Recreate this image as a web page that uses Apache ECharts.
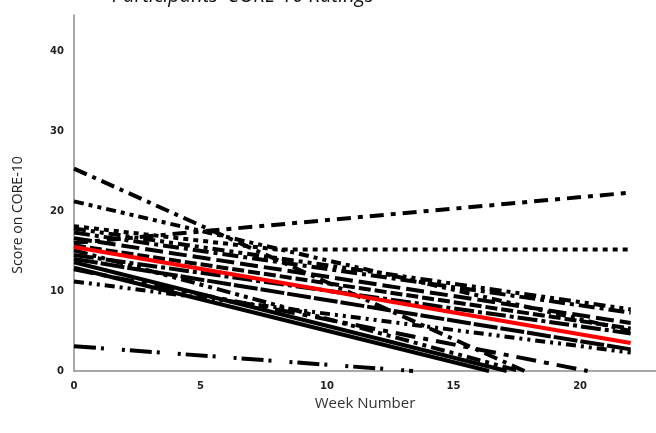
<!DOCTYPE html>
<html>
<head>
<meta charset="utf-8">
<script src="https://cdn.jsdelivr.net/npm/echarts@6/dist/echarts.min.js"></script>
<style>
  html, body { margin: 0; padding: 0; background: #fff; }
  #chart { width: 656px; height: 433px; }
</style>
</head>
<body>
<div id="chart"></div>
<script>
// CORE-10 scores per participant: each line runs through these (week, score) points
const participantWeeks = [
  [0, 17.8],
  [0, 22],
  [0, 8, 22],
  [0, 22],
  [0, 22],
  [0, 22],
  [0, 22],
  [0, 22],
  [0, 22],
  [0, 22],
  [0, 17.1],
  [0, 16.4],
  [0, 20.3],
  [0, 22],
  [0, 17.6],
  [0, 13.4]
];
const participantScores = [
  [25.3, 0],
  [21.2, 5.0],
  [18.1, 15.2, 15.2],
  [17.8, 7.7],
  [16.0, 22.3],
  [16.6, 6.0],
  [17.3, 7.3],
  [15.7, 5.3],
  [14.5, 4.7],
  [14.0, 2.7],
  [13.6, 0],
  [12.9, 0],
  [12.7, 0],
  [11.2, 2.3],
  [15.1, 0],
  [3.1, 0]
];

// overall trend line across all participants
const fitWeeks  = [0, 22];
const fitScores = [15.5, 3.5];

const xTicks = [0, 5, 10, 15, 20];
const yTicks = [0, 10, 20, 30, 40];

// dash pattern per participant line (null = solid)
const dashStyles = [
  [14, 6, 4, 6],
  [10, 5, 4, 5, 4, 5],
  [5, 5],
  [12, 5, 4, 5, 4, 5],
  [14, 7, 5, 7],
  [18, 6],
  [16, 5, 4, 5],
  [12, 4],
  [20, 4, 4, 4],
  [24, 3],
  null,
  null,
  [20, 8, 5, 8],
  [10, 5, 3, 5, 3, 5],
  [14, 5, 4, 5, 4, 5],
  [22, 5, 3, 18, 3, 5]
];

const participantSeries = participantScores.map((scores, i) => ({
  type: 'line',
  name: 'P' + (i + 1),
  data: scores.map((s, j) => [participantWeeks[i][j], s]),
  symbol: 'none',
  silent: true,
  lineStyle: {
    color: '#000',
    width: 4,
    type: dashStyles[i] || 'solid',
    cap: 'butt'
  },
  z: 2
}));

const fitSeries = {
  type: 'line',
  name: 'Mean',
  data: fitWeeks.map((w, i) => [w, fitScores[i]]),
  symbol: 'none',
  silent: true,
  lineStyle: { color: '#ff0000', width: 4 },
  z: 5
};

const axisLabelStyle = {
  fontFamily: 'DejaVu Sans',
  fontSize: 10,
  fontWeight: 'bold',
  color: '#222'
};

const chart = echarts.init(document.getElementById('chart'), null, { renderer: 'canvas' });
chart.setOption({
  animation: false,
  backgroundColor: '#fff',
  grid: { left: 74, right: 0, top: 15, bottom: 62 },
  xAxis: {
    type: 'value',
    min: 0,
    max: 23,
    interval: 5,
    axisLine: { show: true, lineStyle: { color: '#8c8c8c', width: 1.5 } },
    axisTick: { show: false },
    splitLine: { show: false },
    axisLabel: Object.assign({
      margin: 10,
      showMaxLabel: false,
      formatter: v => (xTicks.includes(v) ? String(v) : '')
    }, axisLabelStyle)
  },
  yAxis: {
    type: 'value',
    min: 0,
    max: 44.5,
    interval: 10,
    axisLine: { show: true, lineStyle: { color: '#8c8c8c', width: 1.5 } },
    axisTick: { show: false },
    splitLine: { show: false },
    axisLabel: Object.assign({
      margin: 10,
      showMaxLabel: false,
      formatter: v => (yTicks.includes(v) ? String(v) : '')
    }, axisLabelStyle)
  },
  graphic: [
    {
      type: 'text',
      left: 112,
      top: -14,
      style: {
        text: "Participants' CORE-10 Ratings",
        font: 'italic 20px "Open Sans"',
        fill: '#111'
      }
    },
    {
      type: 'text',
      x: 18,
      y: 215,
      rotation: Math.PI / 2,
      style: {
        text: 'Score on CORE-10',
        font: '14px "Open Sans"',
        fill: '#222',
        align: 'center',
        verticalAlign: 'middle'
      }
    },
    {
      type: 'text',
      x: 365,
      y: 404,
      style: {
        text: 'Week Number',
        font: '15px "Open Sans"',
        fill: '#333',
        align: 'center',
        verticalAlign: 'middle'
      }
    }
  ],
  series: participantSeries.concat([fitSeries])
});
</script>
</body>
</html>
